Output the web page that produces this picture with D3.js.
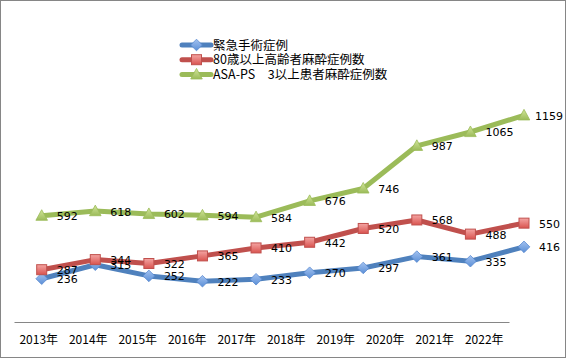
<!DOCTYPE html>
<html><head><meta charset="utf-8">
<script src="https://cdn.jsdelivr.net/npm/d3@7"></script>
<style>
html,body{margin:0;padding:0;background:#fff;}
svg{display:block;}
</style></head>
<body>
<svg id="chart" width="566" height="358"></svg>
<script>
const years = ["2013年","2014年","2015年","2016年","2017年","2018年","2019年","2020年","2021年","2022年"];
const emergency = [236,315,252,222,233,270,297,361,335,416];
const elderly80 = [287,344,322,365,410,442,520,568,488,550];
const asaps3 = [592,618,602,594,584,676,746,987,1065,1159];
const seriesNames = ["緊急手術症例","80歳以上高齢者麻酔症例数","ASA-PS　3以上患者麻酔症例数"];

const svg = d3.select("#chart");
const W = 566, H = 358;

const defs = svg.append("defs");
function grad(id, c1, c2){
  const g = defs.append("linearGradient").attr("id", id).attr("x1",0).attr("y1",0).attr("x2",0).attr("y2",1);
  g.append("stop").attr("offset","0%").attr("stop-color",c1);
  g.append("stop").attr("offset","100%").attr("stop-color",c2);
}
grad("gBlue","#a3c2f0","#5b8fd6");
grad("gRed","#f4a5a3","#d9534f");
grad("gGreen","#d2e59a","#9bbb59");

const series = [
  {name: seriesNames[0], values: emergency, line:"#4f81bd", fill:"url(#gBlue)", stroke:"#5a8ad0", shape:"diamond"},
  {name: seriesNames[1], values: elderly80, line:"#c0504d", fill:"url(#gRed)", stroke:"#c0504d", shape:"square"},
  {name: seriesNames[2], values: asaps3, line:"#9bbb59", fill:"url(#gGreen)", stroke:"#9bbb59", shape:"triangle"}
];

// border
svg.append("rect").attr("x",0.5).attr("y",0.5).attr("width",W-1).attr("height",H-1)
  .attr("fill","#fff").attr("stroke","#868686").attr("stroke-width",1);

const x = d3.scalePoint().domain(years).range([41.7, 524]);
const xBand = d3.scaleBand().domain(years).range([14, 509]);
const y = d3.scaleLinear().domain([0, 1400]).range([320.5, 72.7]);

// axis
const axis = d3.axisBottom(xBand).tickSizeInner(0).tickSizeOuter(0);
const ag = svg.append("g").attr("transform","translate(0,322)").call(axis);
ag.select(".domain").attr("stroke","#868686").attr("stroke-width",1);
ag.selectAll("text").attr("y",18).attr("dy","0.35em")
  .attr("font-family","'Noto Sans CJK JP', sans-serif").attr("font-size","12px").attr("fill","#000");

function marker(sel, shape, fill, stroke){
  if(shape==="diamond"){
    sel.append("path").attr("d","M0,-5.8L5.8,0L0,5.8L-5.8,0Z").attr("fill",fill).attr("stroke",stroke).attr("stroke-width",0.8);
  } else if(shape==="square"){
    sel.append("rect").attr("x",-5).attr("y",-5).attr("width",10).attr("height",10).attr("fill",fill).attr("stroke",stroke).attr("stroke-width",1);
  } else {
    sel.append("path").attr("d","M0,-6L5.8,4.6L-5.8,4.6Z").attr("fill",fill).attr("stroke",stroke).attr("stroke-width",0.8);
  }
}

const line = d3.line().x((d,i)=>x(years[i])).y(d=>y(d));

series.forEach(s=>{
  const g = svg.append("g");
  g.append("path").datum(s.values).attr("d", line).attr("fill","none")
    .attr("stroke", s.line).attr("stroke-width",5).attr("stroke-linejoin","round").attr("stroke-linecap","round");
  s.values.forEach((v,i)=>{
    const m = g.append("g").attr("transform",`translate(${x(years[i])},${y(v)})`);
    marker(m, s.shape, s.fill, s.stroke);
  });
});

// data labels
series.forEach(s=>{
  s.values.forEach((v,i)=>{
    const t = svg.append("text").text(v)
      .attr("font-family","'DejaVu Sans', Verdana, sans-serif").attr("font-size","11px").attr("fill","#000")
      .attr("y", y(v)+4.5);
    const w = t.node().getComputedTextLength();
    t.attr("x", Math.min(x(years[i]) + 15, 563 - w));
  });
});

// legend
const lg = svg.append("g");
series.forEach((s,i)=>{
  const ly = 45 + i*14.7;
  lg.append("line").attr("x1",182).attr("x2",211).attr("y1",ly).attr("y2",ly)
    .attr("stroke",s.line).attr("stroke-width",5).attr("stroke-linecap","round");
  const m = lg.append("g").attr("transform",`translate(196.5,${ly})`);
  marker(m, s.shape, s.fill, s.stroke);
  lg.append("text").attr("x",213).attr("y",ly).attr("dy","0.36em").text(s.name)
    .attr("font-family","'Noto Sans CJK JP', sans-serif").attr("font-size","12.5px").attr("fill","#000");
});
</script>
</body></html>
